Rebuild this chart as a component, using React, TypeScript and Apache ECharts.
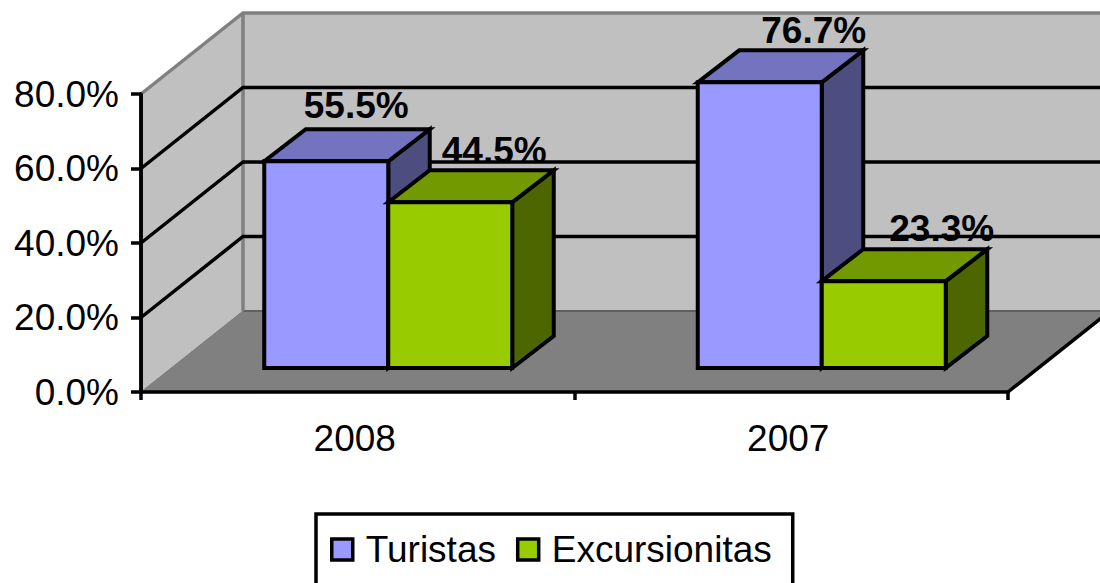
import React, { useEffect, useRef } from "react";
import * as echarts from "echarts";

const categories = ["2008", "2007"];
const turistas = [55.5, 76.7];
const excursionitas = [44.5, 23.3];
const wallTicks = [20, 40, 60];
const axisMax = 80;
const yInterval = 20;

// layout of the pseudo-3D scene, in pixels
const GRID = { left: 141, top: 94, width: 867, height: 298 };
const WALL_DX = 102;
const WALL_DY = -81;
const BAR_SHIFT_X = 30.5;
const BAR_SHIFT_Y = -24;
const BAR_RATIO = 124 / 433.5;
const BAR_DX = 41.5;
const BAR_DY = -32;
const FONT = '"Liberation Sans", Arial, sans-serif';
const FONT_SIZE = 37;
const LINE = 3.5;
const BAR_LINE = 4;

const TURISTAS_COLORS = { front: "#9999FF", top: "#7373BF", side: "#4D4D80" };
const EXCURSION_COLORS = { front: "#99CC00", top: "#739900", side: "#4D6600" };
const TURISTAS_LABEL_NUDGE = [[30, -56], [54, -52]];
const EXCURSION_LABEL_NUDGE = [[44, -52], [58, -53]];

const poly = (points: number[][], fill: string, stroke: string, lineWidth: number) => ({
  type: "polygon",
  shape: { points },
  style: { fill, stroke, lineWidth, lineJoin: "miter" },
});

const line = (points: number[][], stroke: string, lineWidth: number) => ({
  type: "polyline",
  shape: { points },
  style: { fill: "none", stroke, lineWidth },
});

function renderWalls(_params: any, api: any) {
  const catW = api.size([1, 0])[0];
  const x0 = api.coord([0, 0])[0] - catW / 2;
  const x1 = api.coord([1, 0])[0] + catW / 2;
  const y0 = api.coord([0, 0])[1];
  const yTop = api.coord([0, axisMax])[1];
  const bx0 = x0 + WALL_DX;
  const bx1 = x1 + WALL_DX;
  const children: any[] = [
    poly([[x0, y0], [bx0, y0 + WALL_DY], [bx1, y0 + WALL_DY], [x1, y0]], "#808080", "#606060", 1),
    poly([[x0, y0], [bx0, y0 + WALL_DY], [bx0, yTop + WALL_DY], [x0, yTop]], "#C0C0C0", "#808080", 1),
    poly(
      [[bx0, y0 + WALL_DY], [bx1, y0 + WALL_DY], [bx1, yTop + WALL_DY], [bx0, yTop + WALL_DY]],
      "#C0C0C0",
      "none",
      0
    ),
    line([[bx0, y0 + WALL_DY], [bx1, y0 + WALL_DY]], "#606060", 2),
    line([[x0, yTop], [bx0, yTop + WALL_DY], [bx1, yTop + WALL_DY]], "#808080", LINE),
    line([[bx0, yTop + WALL_DY], [bx0, y0 + WALL_DY]], "#808080", LINE),
  ];
  wallTicks.forEach((v) => {
    const y = api.coord([0, v])[1];
    children.push(line([[x0, y], [bx0, y + WALL_DY], [bx1, y + WALL_DY]], "#000", LINE));
  });
  children.push(line([[x1, y0], [bx1, y0 + WALL_DY]], "#000", LINE));
  children.push(line([[x0, yTop], [x0, y0]], "#000", LINE));
  return { type: "group", children };
}

function makeBarRenderer(
  seriesIndex: number,
  colors: { front: string; top: string; side: string },
  nudges: number[][]
) {
  return (_params: any, api: any) => {
    const idx = api.value(0);
    const value = api.value(1);
    const catW = api.size([1, 0])[0];
    const w = catW * BAR_RATIO;
    const center = api.coord([idx, 0])[0] + BAR_SHIFT_X;
    const x0 = center + (seriesIndex - 1) * w;
    const x1 = x0 + w;
    const yBase = api.coord([idx, 0])[1] + BAR_SHIFT_Y;
    const yTop = api.coord([idx, value])[1] + BAR_SHIFT_Y;
    const midX = (x0 + x1) / 2;
    const nudge = nudges[idx];
    return {
      type: "group",
      children: [
        poly([[x1, yBase], [x1 + BAR_DX, yBase + BAR_DY], [x1 + BAR_DX, yTop + BAR_DY], [x1, yTop]], colors.side, "#000", BAR_LINE),
        poly([[x0, yTop], [x0 + BAR_DX, yTop + BAR_DY], [x1 + BAR_DX, yTop + BAR_DY], [x1, yTop]], colors.top, "#000", BAR_LINE),
        poly([[x0, yBase], [x1, yBase], [x1, yTop], [x0, yTop]], colors.front, "#000", BAR_LINE),
        {
          type: "text",
          z2: 50,
          style: {
            text: value.toFixed(1) + "%",
            x: midX + nudge[0],
            y: yTop + nudge[1],
            align: "center",
            verticalAlign: "middle",
            fill: "#000",
            fontFamily: FONT,
            fontSize: FONT_SIZE,
            fontWeight: "bold",
          },
        },
      ],
    };
  };
}

export default function App() {
  const ref = useRef<HTMLDivElement>(null);
  useEffect(() => {
    const chart = echarts.init(ref.current!, undefined, { renderer: "svg" });
    chart.setOption({
      animation: false,
      backgroundColor: "#fff",
      grid: { ...GRID, containLabel: false },
      legend: {
        data: ["Turistas", "Excursionitas"],
        left: 316,
        top: 514,
        orient: "horizontal",
        backgroundColor: "#fff",
        borderColor: "#000",
        borderWidth: LINE,
        borderRadius: 0,
        padding: [17, 21, 40, 14],
        itemWidth: 21,
        itemHeight: 21,
        itemGap: 20,
        icon: "rect",
        itemStyle: { borderColor: "#000", borderWidth: LINE },
        textStyle: { fontFamily: FONT, fontSize: FONT_SIZE, color: "#000", padding: [0, 0, 0, 8] },
      },
      xAxis: {
        type: "category",
        data: categories,
        z: 3,
        axisLine: { show: true, lineStyle: { color: "#000", width: LINE } },
        axisTick: { show: true, length: 8, lineStyle: { color: "#000", width: LINE } },
        axisLabel: { color: "#000", fontFamily: FONT, fontSize: FONT_SIZE, margin: 28, padding: [0, 6, 0, 0] },
        splitLine: { show: false },
      },
      yAxis: {
        type: "value",
        min: 0,
        max: axisMax,
        interval: yInterval,
        z: 3,
        axisLine: { show: true, lineStyle: { color: "#000", width: LINE } },
        axisTick: { show: true, length: 10, lineStyle: { color: "#000", width: LINE } },
        axisLabel: {
          color: "#000",
          fontFamily: FONT,
          fontSize: FONT_SIZE,
          margin: 22,
          padding: [2, 0, 0, 0],
          formatter: (v: number) => v.toFixed(1) + "%",
        },
        splitLine: { show: false },
      },
      series: [
        {
          type: "custom",
          name: "walls",
          z: 1,
          silent: true,
          clip: false,
          renderItem: renderWalls,
          encode: { x: 0, y: 1 },
          data: [[0, 0]],
        },
        {
          type: "custom",
          name: "Turistas",
          z: 4,
          clip: false,
          itemStyle: { color: TURISTAS_COLORS.front },
          renderItem: makeBarRenderer(0, TURISTAS_COLORS, TURISTAS_LABEL_NUDGE),
          encode: { x: 0, y: 1 },
          data: turistas.map((v, i) => [i, v]),
        },
        {
          type: "custom",
          name: "Excursionitas",
          z: 5,
          clip: false,
          itemStyle: { color: EXCURSION_COLORS.front },
          renderItem: makeBarRenderer(1, EXCURSION_COLORS, EXCURSION_LABEL_NUDGE),
          encode: { x: 0, y: 1 },
          data: excursionitas.map((v, i) => [i, v]),
        },
      ],
    });
    return () => chart.dispose();
  }, []);
  return (
    <div
      ref={ref}
      style={{ position: "fixed", left: 0, top: 0, width: 1100, height: 583, overflow: "hidden" }}
    />
  );
}
